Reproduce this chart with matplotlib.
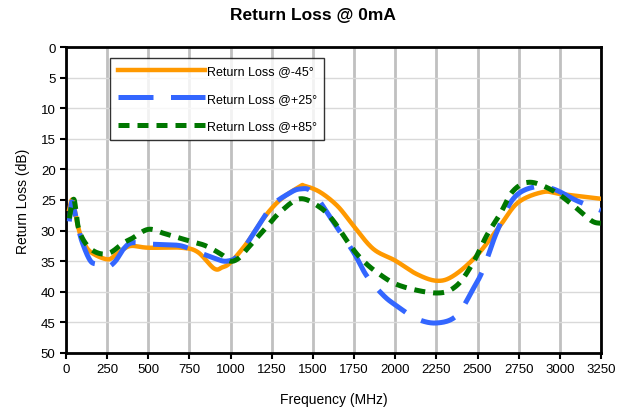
import numpy as np
import matplotlib
matplotlib.use("Agg")
import matplotlib.pyplot as plt

plt.rcParams["font.family"] = ["Liberation Sans", "DejaVu Sans"]

# ---------------------------------------------------------------------------
# Data
# ---------------------------------------------------------------------------
freq_m45 = [20, 40, 70, 100, 150, 250, 300, 350, 400, 500, 700, 800, 900, 950,
            1000, 1100, 1200, 1300, 1420, 1450, 1543, 1650, 1746, 1867, 2000,
            2130, 2252, 2353, 2495, 2637, 2747, 2898, 3000, 3250]
rl_m45 = [26.5, 25.0, 29.0, 31.5, 33.5, 34.7, 34.0, 33.0, 32.5, 32.8, 32.8, 33.5,
          36.2, 36.0, 35.2, 32.0, 28.0, 25.0, 22.8, 22.7, 23.7, 26.0, 29.2, 33.0,
          34.9, 37.1, 38.2, 37.4, 34.1, 29.2, 25.4, 23.7, 24.0, 24.8]

freq_p25 = [20, 30, 40, 70, 100, 150, 200, 250, 300, 350, 400, 500, 600, 700,
            800, 900, 975, 1050, 1150, 1250, 1350, 1422, 1500, 1624, 1746, 1827,
            1929, 2009, 2130, 2252, 2373, 2474, 2535, 2616, 2717, 2839, 2960,
            3102, 3250]
rl_p25 = [28.5, 26.0, 25.5, 29.0, 32.0, 35.0, 35.5, 36.0, 35.0, 33.0, 32.0, 32.2,
          32.3, 32.5, 33.5, 34.5, 35.0, 34.0, 30.0, 26.0, 24.0, 23.2, 23.8, 28.6,
          33.5, 37.4, 40.6, 42.3, 44.4, 45.1, 43.9, 39.5, 36.3, 30.3, 24.8, 22.9,
          23.2, 25.1, 26.7]

freq_p85 = [20, 30, 50, 80, 150, 250, 350, 400, 500, 600, 750, 850, 950, 1000,
            1050, 1100, 1200, 1300, 1422, 1543, 1624, 1705, 1786, 1888, 2029,
            2252, 2373, 2474, 2556, 2637, 2717, 2819, 2960, 3082, 3193, 3250]
rl_p85 = [28.0, 26.5, 25.0, 30.0, 33.0, 33.8, 32.0, 31.3, 29.8, 30.5, 31.7, 32.5,
          34.0, 35.0, 34.5, 33.0, 30.0, 27.0, 24.8, 26.2, 28.4, 31.6, 34.4, 36.8,
          39.0, 40.2, 39.0, 35.2, 30.8, 27.3, 23.5, 22.1, 23.5, 25.9, 28.4, 28.8]

x_ticks = np.arange(0, 3251, 250)
y_ticks = np.arange(0, 51, 5)


def smooth(x, y, steps=20):
    # Catmull-Rom through the points, in screen-ish units so spacing doesn't kink it
    sx, sy = 1.0 / 3250 * 535, 1.0 / 50 * 306
    P = np.column_stack([np.asarray(x, float) * sx, np.asarray(y, float) * sy])
    P = np.vstack([P[0], P, P[-1]])
    out = []
    t = np.linspace(0, 1, steps, endpoint=False)[:, None]
    for i in range(1, len(P) - 2):
        p0, p1, p2, p3 = P[i - 1], P[i], P[i + 1], P[i + 2]
        seg = 0.5 * ((2 * p1) + (-p0 + p2) * t + (2 * p0 - 5 * p1 + 4 * p2 - p3) * t ** 2
                     + (-p0 + 3 * p1 - 3 * p2 + p3) * t ** 3)
        out.append(seg)
    out.append(P[-2][None, :])
    out = np.vstack(out)
    return out[:, 0] / sx, out[:, 1] / sy


# ---------------------------------------------------------------------------
# Plot
# ---------------------------------------------------------------------------
fig = plt.figure(figsize=(6.26, 4.14), dpi=100)
ax = fig.add_axes([0.1054, 0.145, 0.8546, 0.739])

ax.grid(True, axis="x", color="#c0c0c0", linewidth=2.0, zorder=0)
ax.grid(True, axis="y", color="#d9d9d9", linewidth=1.0, zorder=0)

xs, ys = smooth(freq_m45, rl_m45)
ax.plot(xs, ys, color="#ff9900", linewidth=3.2, label="Return Loss @-45°", zorder=3)
xs, ys = smooth(freq_p25, rl_p25)
ax.plot(xs, ys, color="#3366ff", linewidth=3.6, dashes=(7, 3.5),
        label="Return Loss @+25°", zorder=4)
xs, ys = smooth(freq_p85, rl_p85)
ax.plot(xs, ys, color="#007700", linewidth=3.6, dashes=(2.2, 1.6),
        label="Return Loss @+85°", zorder=5)

ax.set_xlim(0, 3250)
ax.set_ylim(50, 0)
ax.set_xticks(x_ticks)
ax.set_yticks(y_ticks)
ax.tick_params(labelsize=9.5, direction="out", length=4, width=1.5, colors="black")
for s in ax.spines.values():
    s.set_linewidth(2.0)
    s.set_color("black")

ax.set_xlabel("Frequency (MHz)", fontsize=10, labelpad=12)
ax.set_ylabel("Return Loss (dB)", fontsize=10, labelpad=8)
fig.suptitle("Return Loss @ 0mA", fontsize=12.5, fontweight="bold", y=0.98)

leg = ax.legend(loc="upper left", bbox_to_anchor=(0.083, 0.965), fontsize=9,
                frameon=True, fancybox=False, handlelength=7.0, handletextpad=0.1,
                labelspacing=1.25, borderpad=0.6, borderaxespad=0)
leg.get_frame().set_edgecolor("black")
leg.get_frame().set_linewidth(1.0)

fig.savefig("out.png", dpi=100)
